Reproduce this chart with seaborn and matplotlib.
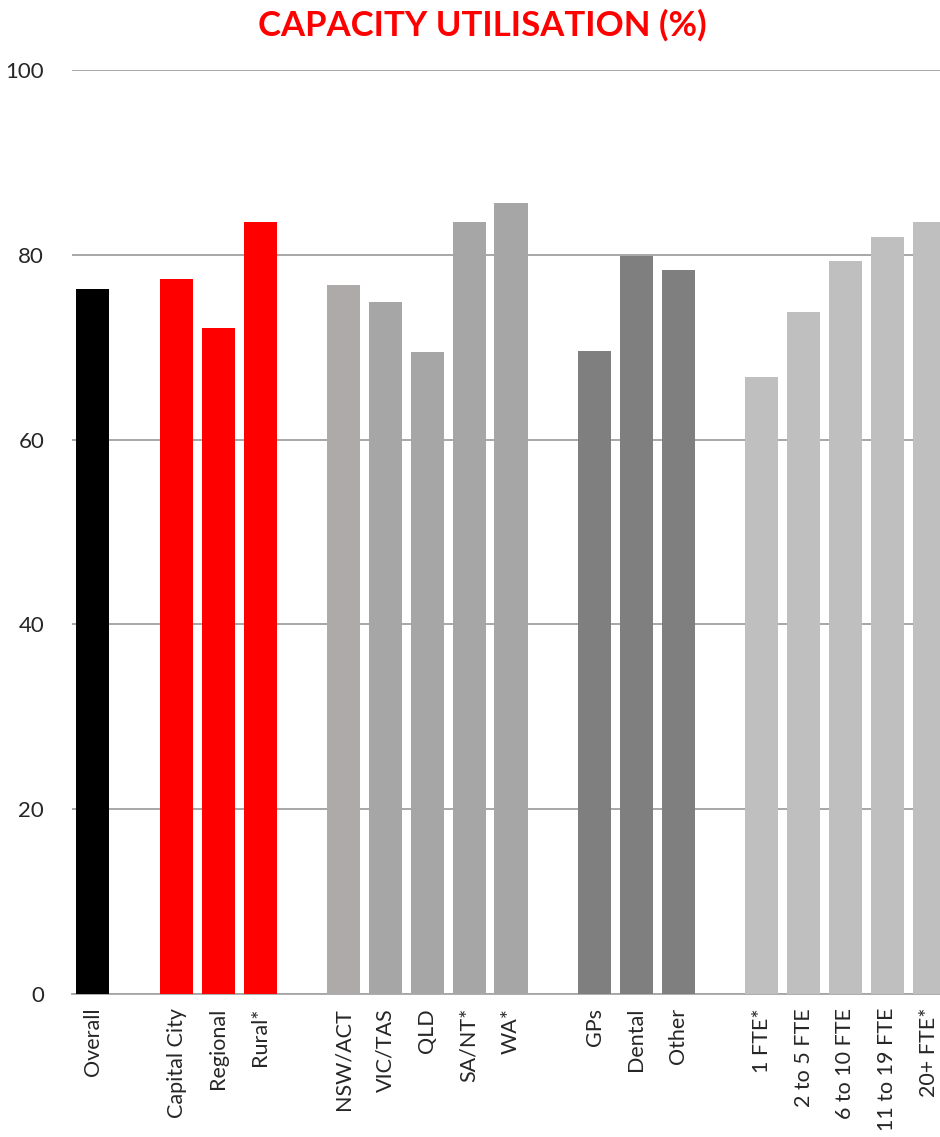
import pandas as pd
import numpy as np
import matplotlib
matplotlib.use("Agg")
import matplotlib.pyplot as plt
import seaborn as sns

# categories in display order, spacer slots are empty
categories = ["Overall", "Capital City", "Regional", "Rural*",
              "NSW/ACT", "VIC/TAS", "QLD", "SA/NT*", "WA*",
              "GPs", "Dental", "Other",
              "1 FTE*", "2 to 5 FTE", "6 to 10 FTE", "11 to 19 FTE", "20+ FTE*"]
values = [76.3, 77.4, 72.1, 83.5,
          76.7, 74.9, 69.5, 83.5, 85.6,
          69.6, 79.9, 78.4,
          66.8, 73.8, 79.3, 81.9, 83.5]
groups = ["total", "loc", "loc", "loc",
          "nsw", "state", "state", "state", "state",
          "type", "type", "type",
          "fte", "fte", "fte", "fte", "fte"]
group_colors = {"total": "#000000", "loc": "#FF0000", "nsw": "#AEAAAA",
                "state": "#A6A6A6", "type": "#7F7F7F", "fte": "#BFBFBF"}

order = ["Overall", "_s1", "Capital City", "Regional", "Rural*", "_s2",
         "NSW/ACT", "VIC/TAS", "QLD", "SA/NT*", "WA*", "_s3",
         "GPs", "Dental", "Other", "_s4",
         "1 FTE*", "2 to 5 FTE", "6 to 10 FTE", "11 to 19 FTE", "20+ FTE*"]

df = pd.DataFrame({"category": categories, "value": values, "group": groups})
palette = {c: group_colors[g] for c, g in zip(categories, groups)}

sns.set_style("white")
plt.rcParams['font.family'] = ['Lato', 'DejaVu Sans']

fig = plt.figure(figsize=(9.4, 11.37), dpi=100)
ax = fig.add_axes([72 / 940, 143 / 1137, 878 / 940, 924 / 1137])

sns.barplot(data=df, x="category", y="value", hue="category", order=order,
            palette=palette, legend=False, width=0.79, saturation=1,
            errorbar=None, ax=ax, zorder=3, linewidth=0)

ax.set_ylim(0, 100)
ax.set_xlim(-0.5, len(order) - 0.5)
ax.set_yticks([0, 20, 40, 60, 80, 100])
ax.grid(axis="y", color="#A0A0A0", linewidth=1.3, zorder=0)
ax.set_axisbelow(True)

ax.set_xticks(range(len(order)))
ax.set_xticklabels(["" if o.startswith("_s") else o for o in order],
                   rotation=90, fontsize=15.5)
ax.set_xticks(np.arange(-0.5, len(order) + 0.5, 1), minor=True)
ax.tick_params(axis="x", which="major", length=0, pad=10)
ax.tick_params(axis="x", which="minor", length=6, color="#A6A6A6", width=1.2)
ax.tick_params(axis="y", length=0, labelsize=16, pad=20)

for s in ["left", "right", "top"]:
    ax.spines[s].set_visible(False)
ax.spines["bottom"].set_color("#A6A6A6")
ax.spines["bottom"].set_linewidth(1.3)
ax.set_xlabel("")
ax.set_ylabel("")

fig.text(482 / 940, 1 - 25 / 1137, "CAPACITY UTILISATION (%)", color="#FF0000",
         fontsize=25, fontweight="bold", ha="center", va="center")

fig.savefig("out.png", dpi=100)
